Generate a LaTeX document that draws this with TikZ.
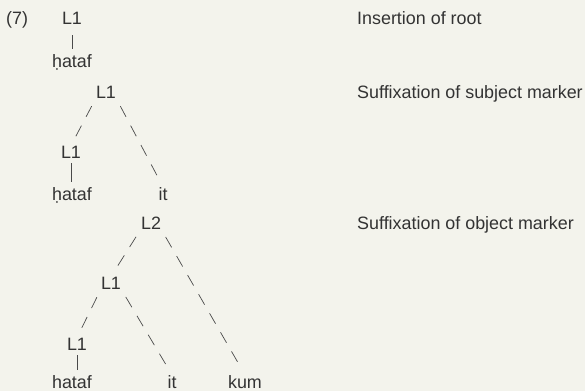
\documentclass[tikz,border=0pt]{standalone}
\usepackage{fontspec}
\setmainfont{Liberation Sans}
\usepackage{xcolor}
\usepackage{tikz}
\definecolor{inkgrey}{HTML}{333333}
\definecolor{linegrey}{HTML}{4A4A4A}
\definecolor{paperbg}{HTML}{F3F3EC}

\begin{document}
\begin{tikzpicture}[
    x=1pt, y=-1pt,
    every node/.style={inner sep=0pt, text=inkgrey,
                       font=\fontsize{17.9pt}{21pt}\selectfont},
    tag/.style={anchor=base},
    note/.style={anchor=base west},
    stem/.style={draw=linegrey, line width=1pt,
                 shorten <=5pt, shorten >=5pt},
    branch/.style={draw=linegrey, line width=0.7pt,
                   dash pattern=on 12pt off 10pt,
                   shorten <=9pt, shorten >=9pt},
  ]
  \fill[paperbg] (0,0) rectangle (585,391);
  \useasboundingbox (0,0) rectangle (585,391);

  \node[note] (num) at (6,24) {(7)};

  % insertion of root
  \node[tag] (a1) at (72,24) {L1};
  \node[tag] (aw) at (72,67) {ḥataf};
  \node[note] (na) at (357,24) {Insertion of root};

  \draw[stem, shorten <=11pt] (a1.south) -- (aw.north);

  % subject marker
  \node[tag] (b1) at (106,98)  {L1};
  \node[tag] (b2) at (71,158)  {L1};
  \node[tag] (bw) at (72,200)  {ḥataf};
  \node[tag] (bi) at (163,200) {it};
  \node[note] (nb) at (357,98) {Suffixation of subject marker};

  \draw[branch] (b1.south west) -- (b2.north);
  \draw[branch] (b1.south east) -- (bi.north);
  \draw[stem] (b2.south) -- (b2.south |- bw.north);

  % object marker
  \node[tag] (c0) at (151,229) {L2};
  \node[tag] (c1) at (111,289) {L1};
  \node[tag] (c2) at (77,350)  {L1};
  \node[tag] (cw) at (72,388)  {hataf};
  \node[tag] (ci) at (172,388) {it};
  \node[tag] (ck) at (245,388) {kum};
  \node[note] (nc) at (357,229) {Suffixation of object marker};

  \draw[branch] (c0.south west) -- (c1.north);
  \draw[branch] (c0.south east) -- (ck.north);
  \draw[branch] (c1.south west) -- (c2.north);
  \draw[branch] (c1.south east) -- (ci.north);
  \draw[stem] (c2.south) -- (c2.south |- cw.north);
\end{tikzpicture}
\end{document}
